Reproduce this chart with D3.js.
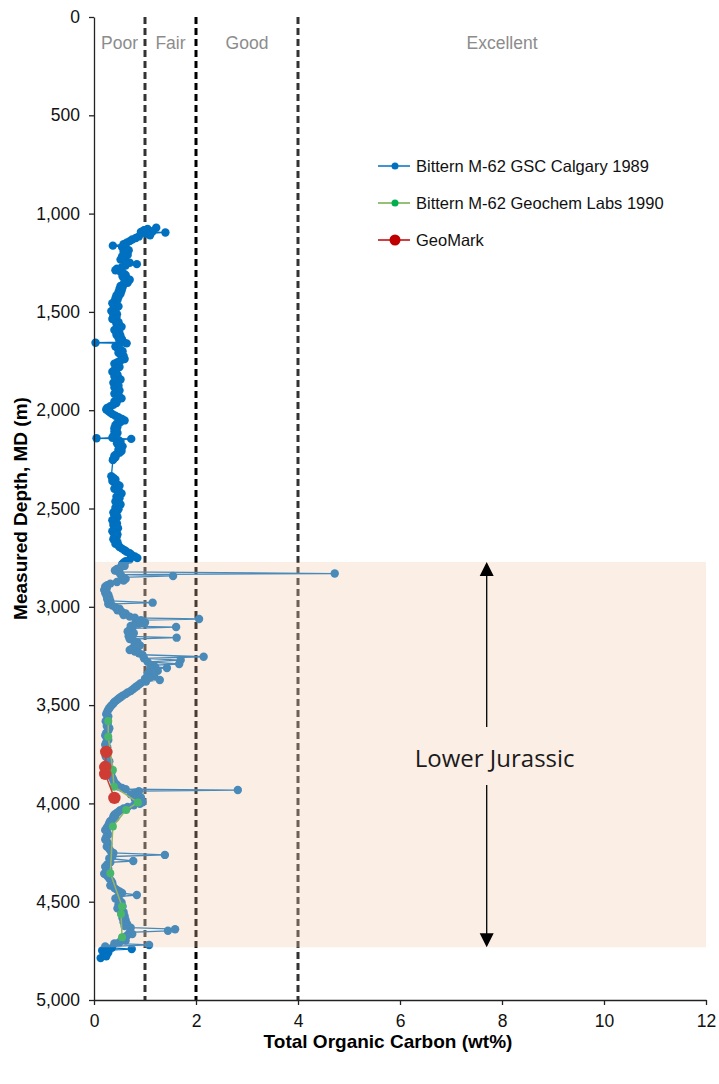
<!DOCTYPE html>
<html><head><meta charset="utf-8">
<script src="https://cdn.jsdelivr.net/npm/d3@7"></script>
<style>body{margin:0;background:#fff}</style>
</head><body><svg id="chart" width="719" height="1084"></svg>
<script>
// [depth m, TOC wt%]
const gscSamples = [[1072,1.22],[1078,1.05],[1084,0.98],[1090,1.15],[1093,0.92],[1096,1.40],[1102,1.02],[1110,1.10],[1116,0.88],[1124,0.82],[1132,0.75],[1140,0.70],[1148,0.64],[1156,0.58],[1163,0.37],[1170,0.55],[1178,0.62],[1186,0.68],[1194,0.58],[1202,0.62],[1210,0.66],[1218,0.55],[1226,0.60],[1234,0.52],[1242,0.62],[1250,0.70],[1257,0.84],[1264,0.62],[1272,0.55],[1280,0.45],[1288,0.42],[1296,0.52],[1304,0.58],[1312,0.62],[1320,0.56],[1328,0.64],[1336,0.70],[1344,0.60],[1352,0.66],[1360,0.58],[1368,0.52],[1376,0.56],[1384,0.50],[1392,0.54],[1400,0.48],[1408,0.52],[1416,0.44],[1424,0.48],[1432,0.42],[1440,0.46],[1448,0.40],[1456,0.36],[1464,0.42],[1472,0.48],[1480,0.44],[1488,0.38],[1496,0.34],[1504,0.40],[1512,0.45],[1520,0.38],[1528,0.44],[1536,0.36],[1544,0.42],[1552,0.48],[1560,0.44],[1568,0.50],[1576,0.54],[1584,0.46],[1592,0.40],[1600,0.46],[1608,0.50],[1616,0.44],[1624,0.52],[1632,0.48],[1640,0.55],[1648,0.50],[1654,0.58],[1657,0.03],[1660,0.64],[1668,0.48],[1676,0.42],[1684,0.46],[1692,0.52],[1700,0.56],[1708,0.48],[1716,0.52],[1724,0.58],[1732,0.55],[1740,0.60],[1748,0.52],[1756,0.46],[1764,0.40],[1772,0.44],[1780,0.50],[1788,0.45],[1796,0.40],[1804,0.36],[1812,0.42],[1820,0.46],[1828,0.40],[1836,0.48],[1844,0.52],[1852,0.45],[1860,0.38],[1868,0.42],[1876,0.48],[1884,0.40],[1892,0.44],[1900,0.50],[1908,0.46],[1916,0.40],[1924,0.45],[1932,0.50],[1940,0.54],[1948,0.46],[1956,0.40],[1964,0.44],[1972,0.38],[1980,0.32],[1988,0.26],[1996,0.24],[2004,0.28],[2012,0.32],[2020,0.36],[2028,0.42],[2036,0.48],[2044,0.55],[2052,0.60],[2060,0.52],[2068,0.45],[2076,0.42],[2084,0.46],[2092,0.40],[2100,0.44],[2108,0.40],[2116,0.46],[2124,0.42],[2132,0.38],[2140,0.36],[2143,0.05],[2146,0.73],[2152,0.48],[2160,0.52],[2168,0.45],[2176,0.50],[2184,0.56],[2192,0.52],[2200,0.48],[2208,0.54],[2216,0.50],[2224,0.44],[2232,0.40],[2240,0.42],[2248,0.38],[2254,0.37],[2336,0.34],[2344,0.38],[2352,0.42],[2360,0.36],[2368,0.40],[2376,0.45],[2384,0.50],[2392,0.44],[2400,0.40],[2408,0.46],[2416,0.50],[2424,0.54],[2432,0.48],[2440,0.44],[2448,0.50],[2456,0.46],[2464,0.42],[2472,0.48],[2480,0.52],[2488,0.46],[2496,0.42],[2504,0.48],[2512,0.42],[2520,0.38],[2528,0.44],[2536,0.40],[2544,0.46],[2552,0.42],[2560,0.36],[2568,0.40],[2576,0.45],[2584,0.38],[2592,0.42],[2600,0.47],[2608,0.40],[2616,0.36],[2624,0.42],[2632,0.46],[2640,0.40],[2648,0.44],[2656,0.38],[2664,0.42],[2672,0.46],[2680,0.42],[2688,0.48],[2696,0.50],[2704,0.55],[2712,0.60],[2720,0.64],[2728,0.70],[2736,0.74],[2744,0.80],[2752,0.85],[2760,0.70],[2768,0.62],[2776,0.58],[2784,0.55],[2792,0.60],[2800,0.52],[2808,0.45],[2815,0.41],[2822,0.48],[2831,4.72],[2836,0.52],[2843,1.55],[2850,0.56],[2858,0.62],[2866,0.58],[2874,0.45],[2882,0.32],[2890,0.26],[2898,0.22],[2906,0.25],[2914,0.20],[2922,0.24],[2930,0.22],[2938,0.28],[2946,0.25],[2954,0.30],[2962,0.26],[2970,0.32],[2979,1.15],[2986,0.28],[2994,0.36],[3002,0.42],[3010,0.50],[3018,0.46],[3026,0.55],[3034,0.62],[3042,0.58],[3050,0.70],[3056,0.80],[3062,2.06],[3068,0.92],[3074,0.85],[3080,1.00],[3086,0.88],[3092,0.78],[3098,0.72],[3103,1.61],[3110,0.75],[3118,0.70],[3126,0.66],[3134,0.78],[3142,0.72],[3150,0.68],[3157,1.62],[3164,0.70],[3172,0.78],[3180,0.85],[3188,0.80],[3196,0.90],[3204,0.86],[3212,0.75],[3220,0.70],[3228,0.80],[3236,0.88],[3244,0.95],[3254,2.15],[3262,0.98],[3271,1.70],[3280,1.05],[3291,1.67],[3298,1.12],[3306,1.20],[3311,1.43],[3318,1.10],[3326,1.25],[3334,1.15],[3342,1.05],[3350,1.18],[3358,1.10],[3366,1.00],[3372,1.29],[3380,1.02],[3388,0.92],[3396,0.88],[3404,0.84],[3412,0.80],[3420,0.76],[3428,0.72],[3436,0.66],[3444,0.62],[3452,0.56],[3460,0.52],[3468,0.48],[3476,0.44],[3484,0.40],[3492,0.38],[3500,0.35],[3508,0.32],[3516,0.30],[3524,0.28],[3534,0.26],[3546,0.24],[3558,0.28],[3570,0.26],[3582,0.23],[3594,0.27],[3606,0.25],[3618,0.30],[3630,0.28],[3642,0.24],[3654,0.22],[3666,0.25],[3678,0.28],[3690,0.24],[3702,0.22],[3714,0.26],[3726,0.24],[3738,0.28],[3750,0.25],[3762,0.23],[3774,0.27],[3786,0.30],[3798,0.26],[3810,0.29],[3822,0.32],[3834,0.30],[3846,0.34],[3858,0.32],[3870,0.36],[3882,0.38],[3894,0.40],[3904,0.44],[3914,0.48],[3922,0.55],[3928,0.62],[3932,2.82],[3938,0.88],[3946,0.80],[3954,0.72],[3962,0.85],[3970,0.92],[3978,0.80],[3986,0.88],[3994,0.95],[4002,0.90],[4010,0.78],[4018,0.66],[4026,0.58],[4034,0.52],[4042,0.48],[4050,0.44],[4058,0.40],[4066,0.38],[4074,0.42],[4082,0.36],[4090,0.32],[4100,0.30],[4112,0.28],[4124,0.25],[4136,0.22],[4148,0.26],[4160,0.28],[4172,0.24],[4184,0.22],[4196,0.26],[4208,0.28],[4220,0.25],[4232,0.30],[4244,0.33],[4252,0.38],[4262,1.39],[4270,0.36],[4280,0.30],[4293,0.77],[4300,0.32],[4310,0.26],[4322,0.22],[4334,0.28],[4346,0.24],[4358,0.20],[4370,0.26],[4382,0.30],[4394,0.34],[4406,0.36],[4418,0.32],[4430,0.40],[4440,0.45],[4448,0.50],[4456,0.55],[4466,0.84],[4474,0.48],[4484,0.42],[4494,0.50],[4504,0.54],[4514,0.48],[4524,0.56],[4534,0.46],[4544,0.52],[4554,0.58],[4564,0.54],[4574,0.60],[4584,0.56],[4594,0.62],[4604,0.58],[4614,0.65],[4624,0.60],[4632,0.72],[4640,1.59],[4648,1.45],[4656,0.70],[4664,0.75],[4672,0.65],[4680,0.60],[4690,0.55],[4698,0.62],[4706,0.50],[4712,0.40],[4720,1.08],[4728,0.22],[4735,0.35],[4741,0.74],[4748,0.16],[4758,0.28],[4768,0.20],[4778,0.24],[4787,0.13]];
const geochemSamples = [[3581,0.28],[3661,0.28],[3830,0.37],[3915,0.39],[3995,0.86],[4033,0.63],[4118,0.37],[4355,0.32],[4525,0.55],[4562,0.53],[4681,0.55]];
const geomarkSamples = [[3738,0.24],[3815,0.22],[3850,0.22],[3972,0.40]];

const seriesNames = ["Bittern M-62 GSC Calgary 1989","Bittern M-62 Geochem Labs 1990","GeoMark"];
const cutoffValues = [1,2,4];
const classNames = ["Poor","Fair","Good","Excellent"];
const classCenters = [0.5,1.5,3,8];
const xTickValues = [0,2,4,6,8,10,12];
const yTickValues = [0,500,1000,1500,2000,2500,3000,3500,4000,4500,5000];
const zoneName = "Lower Jurassic";
const zoneTop = 2772;
const zoneBase = 4732;
const zoneArrowToc = 7.7;

const svg = d3.select("#chart");
const x = d3.scaleLinear().domain([0,12]).range([94,706]);
const y = d3.scaleLinear().domain([0,5000]).range([17,1000]);
const FONT = "'Liberation Sans', Arial, sans-serif";

// cutoff dashed lines
svg.append("g").selectAll("line").data(cutoffValues).join("line")
  .attr("x1", d=>x(d)).attr("x2", d=>x(d)).attr("y1", y(0)).attr("y2", y(5000))
  .attr("stroke", d=>d===2?"#000":"#333").attr("stroke-width", 3)
  .attr("stroke-dasharray","7,4");

// class labels
svg.append("g").selectAll("text").data(classNames).join("text")
  .attr("x",(d,i)=>x(classCenters[i])).attr("y",49)
  .attr("text-anchor","middle").attr("font-family",FONT).attr("font-size",17.5)
  .attr("fill","#8c8c8c").text(d=>d);

function drawSeries(data, lineColor, markColor, r, lw){
  const g = svg.append("g");
  g.append("path").datum(data)
    .attr("d", d3.line().x(d=>x(d[1])).y(d=>y(d[0])))
    .attr("fill","none").attr("stroke",lineColor).attr("stroke-width",lw);
  g.selectAll("circle").data(data).join("circle")
    .attr("cx",d=>x(d[1])).attr("cy",d=>y(d[0])).attr("r",r).attr("fill",markColor);
}
drawSeries(gscSamples, "#0070c0", "#0070c0", 4.2, 1.3);
drawSeries(geochemSamples, "#70ad47", "#00b050", 4, 1.5);
drawSeries(geomarkSamples, "#c00000", "#c00000", 6.2, 1.5);

// Lower Jurassic overlay
svg.append("rect").attr("x", x(0)+1).attr("width", x(12)-x(0)-1)
  .attr("y", y(zoneTop)).attr("height", y(zoneBase)-y(zoneTop))
  .attr("fill","rgb(242,200,170)").attr("fill-opacity",0.3);

// axes
const yAxis = svg.append("g").attr("transform",`translate(${x(0)},0)`)
  .call(d3.axisLeft(y).tickValues(yTickValues).tickFormat(d3.format(",")).tickSize(5).tickSizeOuter(0).tickPadding(9));
const xAxis = svg.append("g").attr("transform",`translate(0,${y(5000)})`)
  .call(d3.axisBottom(x).tickValues(xTickValues).tickSize(5).tickSizeOuter(0).tickPadding(10));
[yAxis,xAxis].forEach(a=>{
  a.selectAll("path,line").attr("stroke","#222").attr("stroke-width",1.3);
  a.selectAll("text").attr("font-family",FONT).attr("font-size",17.5).attr("fill","#111");
});

// axis titles
svg.append("text").attr("x",(x(0)+x(12))/2-12).attr("y",1048).attr("text-anchor","middle")
  .attr("font-family",FONT).attr("font-weight","bold").attr("font-size",19).attr("fill","#000")
  .text("Total Organic Carbon (wt%)");
svg.append("text").attr("transform",`translate(27,${(y(0)+y(5000))/2}) rotate(-90)`)
  .attr("text-anchor","middle").attr("font-family",FONT).attr("font-weight","bold").attr("font-size",19)
  .attr("fill","#000").text("Measured Depth, MD (m)");

// arrow
const ax = x(zoneArrowToc);
const yt = y(zoneTop), yb = y(zoneBase);
const ag = svg.append("g").attr("stroke","#000").attr("stroke-width",1.3);
ag.append("line").attr("x1",ax).attr("x2",ax).attr("y1",yt+12).attr("y2",727);
ag.append("line").attr("x1",ax).attr("x2",ax).attr("y1",785).attr("y2",yb-12);
svg.append("path").attr("d",`M${ax},${yt} L${ax-7},${yt+14} L${ax+7},${yt+14} Z`).attr("fill","#000");
svg.append("path").attr("d",`M${ax},${yb} L${ax-7},${yb-14} L${ax+7},${yb-14} Z`).attr("fill","#000");
svg.append("text").attr("x",ax+8).attr("y",767).attr("text-anchor","middle")
  .attr("font-family","'Open Sans', sans-serif").attr("font-size",24).attr("fill","#1a1a1a").text(zoneName);

// legend
const legColors = [["#0070c0","#0070c0",3.5],["#70ad47","#00b050",3.5],["#c00000","#c00000",5.5]];
const legY = [166,203,240];
const lg = svg.append("g");
seriesNames.forEach((n,i)=>{
  lg.append("line").attr("x1",378).attr("x2",410).attr("y1",legY[i]).attr("y2",legY[i])
    .attr("stroke",legColors[i][0]).attr("stroke-width",1.5);
  lg.append("circle").attr("cx",395).attr("cy",legY[i]).attr("r",legColors[i][2]).attr("fill",legColors[i][1]);
  lg.append("text").attr("x",416).attr("y",legY[i]+5.5).attr("font-family",FONT).attr("font-size",16.5)
    .attr("fill","#111").text(n);
});
</script></body></html>
